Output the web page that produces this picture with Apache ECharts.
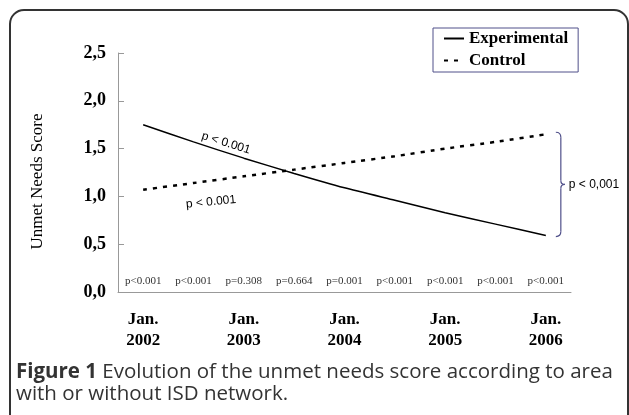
<!DOCTYPE html>
<html><head><meta charset="utf-8">
<script src="https://cdn.jsdelivr.net/npm/echarts@6/dist/echarts.min.js"></script>
<style>html,body{margin:0;padding:0;background:#fff}#c{width:629px;height:415px}</style>
</head><body><div id="c"></div>
<script>
// Half-year periods from Jan. 2002 to Jan. 2006
const periods = ['Jan 2002','Jul 2002','Jan 2003','Jul 2003','Jan 2004','Jul 2004','Jan 2005','Jul 2005','Jan 2006'];
const yearLabels = ['Jan.\n2002','','Jan.\n2003','','Jan.\n2004','','Jan.\n2005','','Jan.\n2006'];
const pValues = ['p<0.001','p<0.001','p=0.308','p=0.664','p=0.001','p<0.001','p<0.001','p<0.001','p<0.001'];
const experimental = [1.75,1.57,1.40,1.24,1.09,0.96,0.83,0.71,0.59];
const control = [1.07,1.14,1.21,1.28,1.35,1.42,1.50,1.57,1.65];
const seriesNames = ['Experimental','Control'];
const trendLabels = ['p < 0.001','p < 0.001'];
const diffLabel = 'p < 0,001';

const serif = '"Liberation Serif","Times New Roman",serif';
const sans = '"Liberation Sans",Arial,sans-serif';
const chart = echarts.init(document.getElementById('c'), null, {renderer:'canvas'});
chart.setOption({
  animation:false,
  backgroundColor:'#fff',
  grid:{left:118, right:58, top:53, bottom:123},
  legend:{
    data:seriesNames, orient:'vertical', left:433, top:28,
    padding:[2,10,3,10], itemGap:5, itemWidth:20, itemHeight:10,
    itemStyle:{opacity:0},
    borderColor:'#50508a', borderWidth:1, borderRadius:0,
    textStyle:{fontFamily:serif, fontWeight:'bold', fontSize:17, color:'#000'}
  },
  xAxis:[{
    type:'category', data:pValues, boundaryGap:true,
    axisLine:{lineStyle:{color:'#999', width:1}},
    axisTick:{inside:true, length:5, lineStyle:{color:'#999'}},
    axisLabel:{inside:true, interval:0, margin:5, fontFamily:serif, fontSize:11, color:'#333'}
  },{
    type:'category', data:yearLabels, position:'bottom', boundaryGap:true,
    axisLine:{show:false}, axisTick:{show:false},
    axisLabel:{interval:0, margin:17, fontFamily:serif, fontWeight:'bold', fontSize:17, lineHeight:21, color:'#000'}
  }],
  yAxis:{
    type:'value', min:0, max:2.5, interval:0.5,
    name:'Unmet Needs Score', nameLocation:'middle', nameGap:72,
    nameTextStyle:{fontFamily:serif, fontSize:17, color:'#000', padding:[0,18,0,0]},
    axisLine:{show:true, lineStyle:{color:'#999'}},
    axisTick:{show:true, inside:true, length:6, lineStyle:{color:'#999'}},
    splitLine:{show:false},
    axisLabel:{margin:12, fontFamily:serif, fontWeight:'bold', fontSize:18, color:'#000',
      formatter:v=>v.toFixed(1).replace('.',',')}
  },
  series:[{
    name:seriesNames[0], type:'line', data:experimental, smooth:0.2, symbol:'none',
    lineStyle:{color:'#000', width:1.5}, itemStyle:{color:'#000'}
  },{
    name:seriesNames[1], type:'line', data:control, smooth:0.2, symbol:'none',
    lineStyle:{color:'#000', width:2.5, type:[4,6]}, itemStyle:{color:'#000'}
  }]
});

const lastIdx = periods.length-1;
const pC = chart.convertToPixel({xAxisIndex:0, yAxisIndex:0}, [lastIdx, control[lastIdx]]);
const pE = chart.convertToPixel({xAxisIndex:0, yAxisIndex:0}, [lastIdx, experimental[lastIdx]]);
const bx = pE[0]+10, bTop = pC[1]-2, bBot = pE[1]+1, bMid = (bTop+bBot)/2;
const bs = {fill:'none', stroke:'#50508a', lineWidth:1.2};
const brace = [
  {type:'bezierCurve', shape:{x1:bx, y1:bTop, x2:bx+5, y2:bTop+5, cpx1:bx+5, cpy1:bTop}, style:bs},
  {type:'line', shape:{x1:bx+5, y1:bTop+5, x2:bx+5, y2:bMid-4}, style:bs},
  {type:'bezierCurve', shape:{x1:bx+5, y1:bMid-4, x2:bx+9, y2:bMid, cpx1:bx+5, cpy1:bMid}, style:bs},
  {type:'bezierCurve', shape:{x1:bx+9, y1:bMid, x2:bx+5, y2:bMid+4, cpx1:bx+5, cpy1:bMid}, style:bs},
  {type:'line', shape:{x1:bx+5, y1:bMid+4, x2:bx+5, y2:bBot-5}, style:bs},
  {type:'bezierCurve', shape:{x1:bx+5, y1:bBot-5, x2:bx, y2:bBot, cpx1:bx+5, cpy1:bBot}, style:bs}
];

chart.setOption({graphic:[
  {type:'rect', shape:{x:10, y:10, width:618, height:500, r:14}, style:{fill:'none', stroke:'#333', lineWidth:2}, silent:true},
  ...brace,
  {type:'text', x:bx+13, y:bMid, style:{text:diffLabel, font:'12px '+sans, fill:'#000', textVerticalAlign:'middle'}},
  {type:'text', x:226, y:143, rotation:-0.3,
    style:{text:trendLabels[0], font:'12px '+sans, fill:'#000', textAlign:'center', textVerticalAlign:'middle'}},
  {type:'text', x:211, y:202, rotation:0.1,
    style:{text:trendLabels[1], font:'12px '+sans, fill:'#000', textAlign:'center', textVerticalAlign:'middle'}},
  {type:'text', left:16, top:361, style:{
    text:'{b|Figure 1} Evolution of the unmet needs score according to area\nwith or without ISD network.',
    font:'20.5px "Open Sans",sans-serif', fill:'#333', lineHeight:22,
    rich:{b:{fontWeight:'bold', fontFamily:'"Open Sans",sans-serif', fontSize:20.5, fill:'#333'}}
  }}
]});
</script></body></html>
